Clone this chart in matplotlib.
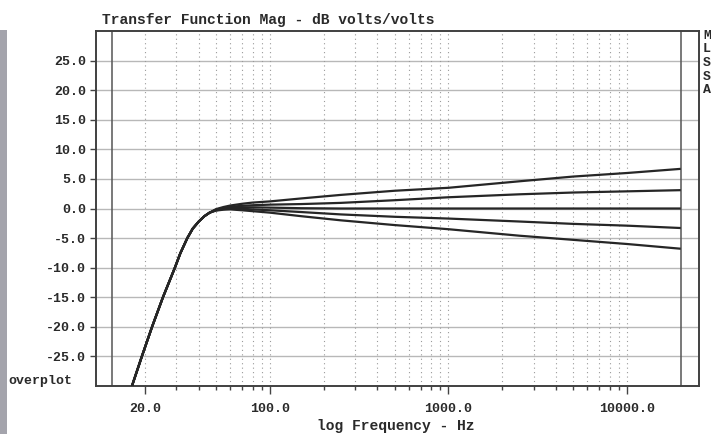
import matplotlib
matplotlib.use("Agg")
import matplotlib.pyplot as plt
from matplotlib.patches import Rectangle
from matplotlib.ticker import FixedLocator, NullFormatter

# ---- data ----
freq_hz = [16.9, 19.2, 21.9, 25.2, 29.4, 31.5, 34.5, 37, 40, 43, 46, 50, 55,
           60, 70, 80, 100, 150, 250, 500, 1000, 2500, 5000, 10000, 20000]
curve_1 = [-30, -25, -20, -15, -10, -7.6, -5, -3.4, -2.2, -1.3, -0.7, -0.1, 0.25,
           0.5, 0.8, 1.0, 1.2, 1.7, 2.3, 3.0, 3.5, 4.6, 5.4, 6.0, 6.7]
curve_2 = [-30, -25, -20, -15, -10, -7.6, -5, -3.4, -2.2, -1.3, -0.7, -0.2, 0.1,
           0.3, 0.45, 0.55, 0.65, 0.75, 0.95, 1.4, 1.9, 2.4, 2.7, 2.9, 3.1]
curve_3 = [-30, -25, -20, -15, -10, -7.6, -5, -3.4, -2.2, -1.3, -0.7, -0.25, 0.0,
           0.15, 0.2, 0.2, 0.15, 0.05, 0.0, 0.0, 0.0, 0.0, 0.0, 0.0, 0.0]
curve_4 = [-30, -25, -20, -15, -10, -7.6, -5, -3.4, -2.2, -1.3, -0.7, -0.3, -0.1,
           0.0, -0.05, -0.15, -0.3, -0.6, -1.0, -1.4, -1.7, -2.2, -2.6, -2.9, -3.3]
curve_5 = [-30, -25, -20, -15, -10, -7.6, -5, -3.4, -2.2, -1.3, -0.7, -0.35, -0.2,
           -0.15, -0.3, -0.45, -0.7, -1.3, -2.0, -2.8, -3.5, -4.6, -5.3, -6.0, -6.8]
curves = [curve_1, curve_2, curve_3, curve_4, curve_5]

y_ticks = [25, 20, 15, 10, 5, 0, -5, -10, -15, -20, -25]
y_tick_labels = ["25.0", "20.0", "15.0", "10.0", "5.0", "0.0", "-5.0",
                 "-10.0", "-15.0", "-20.0", "-25.0"]
x_ticks = [20, 100, 1000, 10000]
x_tick_labels = ["20.0", "100.0", "1000.0", "10000.0"]
x_minor = [30, 40, 50, 60, 70, 80, 90, 200, 300, 400, 500, 600, 700, 800, 900,
           2000, 3000, 4000, 5000, 6000, 7000, 8000, 9000]
marker_lines_hz = [13, 20000]
side_letters = ["M", "L", "S", "S", "A"]

title = "Transfer Function Mag - dB volts/volts"
xlabel = "log Frequency - Hz"

# ---- figure ----
W, H = 711, 434
fig = plt.figure(figsize=(W / 100, H / 100), dpi=100)
fig.patch.set_facecolor("white")

FONT = "Liberation Mono"
TXT = "#2a2a2a"

# grey strip on the left
fig.patches.append(Rectangle((0, 0), 7 / W, (H - 30) / H, transform=fig.transFigure,
                             facecolor="#a4a4ac", edgecolor="none", zorder=0))

left, right, top, bottom = 96, 699, 31, 386
ax = fig.add_axes([left / W, (H - bottom) / H, (right - left) / W, (bottom - top) / H])
ax.set_xscale("log")
ax.set_xlim(10.63, 25300)
ax.set_ylim(-30, 30)

# grid
for y in y_ticks:
    ax.axhline(y, color="#b8b8b8", lw=1.0, zorder=1)
for xv in x_ticks + x_minor:
    ax.axvline(xv, color="#9a9a9a", lw=0.8, ls=(0, (1, 3)), zorder=1)
for xv in marker_lines_hz:
    ax.axvline(xv, color="#555555", lw=1.1, zorder=2)

for c in curves:
    ax.plot(freq_hz, c, color="#262626", lw=1.6, zorder=3, solid_capstyle="butt",
            solid_joinstyle="round")

# ticks
ax.set_yticks(y_ticks)
ax.set_yticklabels(y_tick_labels)
ax.xaxis.set_major_locator(FixedLocator(x_ticks))
ax.set_xticklabels(x_tick_labels)
ax.xaxis.set_minor_locator(FixedLocator(x_minor))
ax.xaxis.set_minor_formatter(NullFormatter())
ax.tick_params(axis="y", direction="out", length=4, width=1, color="#444444",
               pad=3, labelsize=9.5, labelcolor=TXT)
ax.tick_params(axis="x", which="major", direction="out", length=6, width=1,
               color="#444444", pad=6, labelsize=9.5, labelcolor=TXT)
ax.tick_params(axis="x", which="minor", direction="out", length=3, width=1,
               color="#444444")
for lab in ax.get_xticklabels() + ax.get_yticklabels():
    lab.set_family(FONT)
    lab.set_weight("bold")

for s in ax.spines.values():
    s.set_color("#404040")
    s.set_linewidth(1.4)

# texts
fig.text(102 / W, 1 - 20 / H, title, family=FONT, weight="bold", fontsize=10.5,
         color=TXT, ha="left", va="center")
fig.text(396 / W, 1 - 426 / H, xlabel, family=FONT, weight="bold", fontsize=10.5,
         color=TXT, ha="center", va="center")
fig.text(8 / W, 1 - 381 / H, "overplot", family=FONT, weight="bold", fontsize=9.5,
         color=TXT, ha="left", va="center")
for i, letter in enumerate(side_letters):
    fig.text(703 / W, 1 - (36 + 13.5 * i) / H, letter, family=FONT, weight="bold",
             fontsize=9.5, color=TXT, ha="left", va="center")

fig.savefig("out.png", dpi=100)
